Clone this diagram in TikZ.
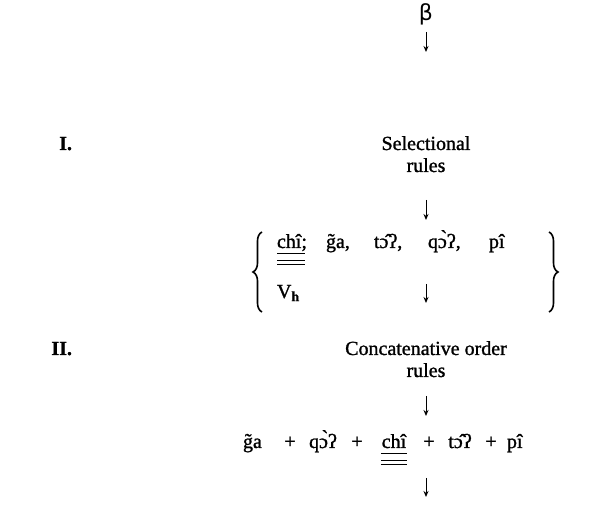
\documentclass[tikz,border=0pt]{standalone}
\usepackage{fontspec}
\setmainfont{Liberation Serif}[FakeBold=1.2]
\newfontfamily\betafont{DejaVu Sans}
\usetikzlibrary{arrows.meta,decorations.pathreplacing}
\tikzset{
  txt/.style={inner sep=0pt, outer sep=0pt, font=\fontsize{20}{22}\selectfont},
  lbl/.style={txt, anchor=base},
  wrd/.style={txt, anchor=base west},
  arr/.style={line width=1pt, -{Stealth[length=6pt,width=5pt]}},
  rule/.style={line width=0.9pt},
  bigbrace/.style={decorate, decoration={brace, amplitude=9pt}, line width=1.6pt}
}
\begin{document}
\begin{tikzpicture}[x=1pt,y=-1pt]
\useasboundingbox (0,0) rectangle (590,505);
% beta
\node[lbl, font=\betafont\fontsize{22}{24}\selectfont] (beta) at (426,21) {β};
\coordinate (a1s) at (426,32); \coordinate (a1e) at (426,52);
\draw[arr] (a1s) -- (a1e);
% I.
\node[lbl, anchor=base east] (one) at (72,150) {\textbf{I.}};
\node[lbl] (sel1) at (426,150) {Selectional};
\node[lbl] (sel2) at (426,172) {rules};
\coordinate (a2s) at (426,200); \coordinate (a2e) at (426,220);
\draw[arr] (a2s) -- (a2e);
% brace block
\coordinate (lbt) at (262,232); \coordinate (lbb) at (262,312);
\coordinate (rbt) at (549,232); \coordinate (rbb) at (549,312);
\draw[bigbrace] (lbb) -- (lbt);
\draw[bigbrace] (rbt) -- (rbb);
\node[wrd] (w1) at (277,248) {chî;};
\node[wrd] (w2) at (326,248) {g̃a,};
\node[wrd] (w3) at (374,248) {t\^{ɔ}ʔ,};
\node[wrd] (w4) at (428,248) {q\`{ɔ}ʔ,};
\node[wrd] (w5) at (489,248) {pî};
\node[wrd] (vh) at (277,298) {V\textsubscript{\textbf{h}}};
\draw[rule] ([yshift=-5pt]w1.base west) -- ++(28,0);
\draw[rule] ([yshift=-12pt]w1.base west) -- ++(28,0);
\draw[rule] ([yshift=-16pt]w1.base west) -- ++(28,0);
\coordinate (a3s) at (426,284); \coordinate (a3e) at (426,303);
\draw[arr] (a3s) -- (a3e);
% II.
\node[lbl, anchor=base east] (two) at (72,355) {\textbf{II.}};
\node[lbl] (con1) at (426,355) {Concatenative order};
\node[lbl] (con2) at (426,377) {rules};
\coordinate (a4s) at (426,396); \coordinate (a4e) at (426,416);
\draw[arr] (a4s) -- (a4e);
% bottom row
\node[wrd] (ga) at (243,448) {g̃a};
\node[lbl] (p1) at (290,448) {+};
\node[lbl] (q) at (323,448) {q\`{ɔ}ʔ};
\node[lbl] (p2) at (357,448) {+};
\node[lbl] (chi) at (394,448) {chî};
\node[lbl] (p3) at (429,448) {+};
\node[lbl] (t) at (460,448) {t\^{ɔ}ʔ};
\node[lbl] (p4) at (491,448) {+};
\node[wrd] (pi) at (507,448) {pî};
\draw[rule] ([xshift=-1pt,yshift=-5pt]chi.base west) -- ([xshift=1pt,yshift=-5pt]chi.base east);
\draw[rule] ([xshift=-1pt,yshift=-12pt]chi.base west) -- ([xshift=1pt,yshift=-12pt]chi.base east);
\draw[rule] ([xshift=-1pt,yshift=-16pt]chi.base west) -- ([xshift=1pt,yshift=-16pt]chi.base east);
\coordinate (a5s) at (426,478); \coordinate (a5e) at (426,497);
\draw[arr] (a5s) -- (a5e);
\end{tikzpicture}
\end{document}
